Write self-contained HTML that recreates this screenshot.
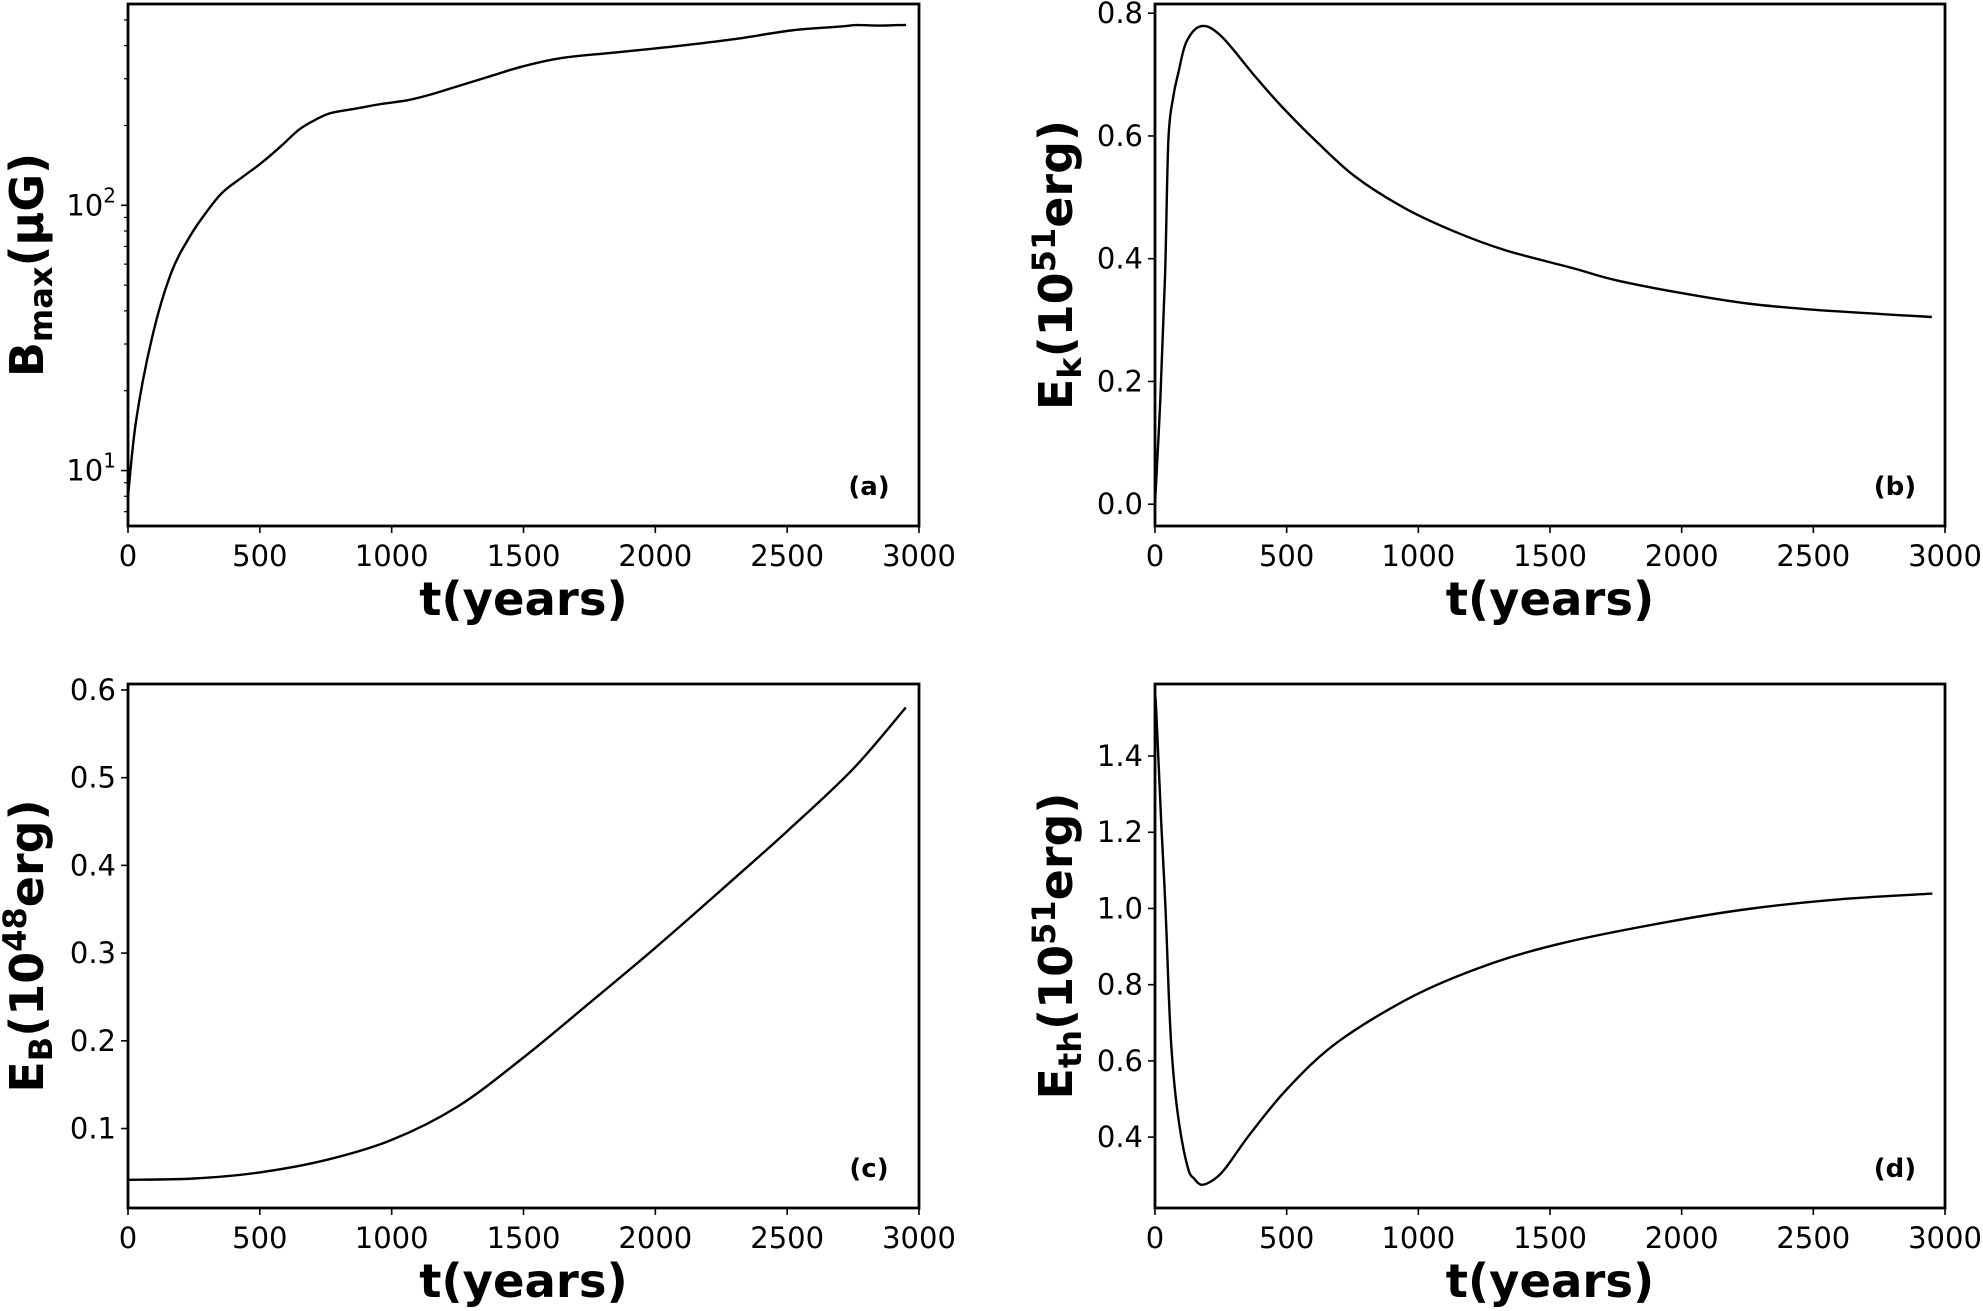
<!DOCTYPE html>
<html><head><meta charset="utf-8"><style>
html,body{margin:0;padding:0;background:#fff;}
svg{display:block;font-family:"DejaVu Sans","Liberation Sans",sans-serif;}
</style></head><body>
<svg id="fig" width="1983" height="1311" viewBox="0 0 1983 1311" xmlns="http://www.w3.org/2000/svg">
<rect width="1983" height="1311" fill="#fff"/>
</svg>
<script>
const xTicks=[0,500,1000,1500,2000,2500,3000];
const tA=[0,31,92,165,237,300,359,430,504,580,649,710,771,868,960,1061,1150,1255,1380,1497,1643,1836,2079,2297,2515,2700,2760,2850,2951];
const vA=[8.0,15.5,32,56,77,95,112,127,144,167,193,210,223,232,241,249,262,282,308,334,359,376,398,423,456,472,478,476,479];
const tB=[0,20,38,51,70,89,120,177,253,380,481,608,760,950,1139,1329,1583,1750,2000,2250,2500,2750,2950];
const vB=[0,0.17,0.37,0.594,0.665,0.703,0.754,0.779,0.762,0.697,0.648,0.593,0.534,0.482,0.444,0.414,0.385,0.365,0.344,0.327,0.317,0.31,0.305];
const tC=[0,250,500,750,1000,1250,1500,1750,2000,2250,2500,2750,2950];
const vC=[0.0416,0.043,0.050,0.064,0.087,0.125,0.181,0.243,0.306,0.372,0.439,0.51,0.58];
const tD=[0,5,24,40,52,64,88,124,150,178,220,267,362,505,695,981,1267,1552,1933,2267,2600,2952];
const vD=[1.56,1.515,1.22,1.0,0.78,0.617,0.453,0.321,0.29,0.275,0.287,0.318,0.409,0.529,0.65,0.77,0.853,0.91,0.963,1.0,1.024,1.039];
const yTicksB=[0,0.2,0.4,0.6,0.8];
const yTicksC=[0.1,0.2,0.3,0.4,0.5,0.6];
const yTicksD=[0.4,0.6,0.8,1.0,1.2,1.4];

const NS="http://www.w3.org/2000/svg";
const svg=document.getElementById('fig');
function mk(tag,attrs,parent){const e=document.createElementNS(NS,tag);for(const k in attrs)e.setAttribute(k,attrs[k]);(parent||svg).appendChild(e);return e;}
function smooth(pts){
  let d='M'+pts[0][0].toFixed(1)+','+pts[0][1].toFixed(1);
  for(let i=0;i<pts.length-1;i++){
    const p0=pts[Math.max(0,i-1)],p1=pts[i],p2=pts[i+1],p3=pts[Math.min(pts.length-1,i+2)];
    const c1=[p1[0]+(p2[0]-p0[0])/6,p1[1]+(p2[1]-p0[1])/6];
    const c2=[p2[0]-(p3[0]-p1[0])/6,p2[1]-(p3[1]-p1[1])/6];
    d+='C'+c1[0].toFixed(1)+','+c1[1].toFixed(1)+' '+c2[0].toFixed(1)+','+c2[1].toFixed(1)+' '+p2[0].toFixed(1)+','+p2[1].toFixed(1);
  }
  return d;
}

function panel(o){
  const g=mk('g',{});
  
  
  const X=t=>o.x0+(t-0)/3000*(o.x1-o.x0);
  const Y=o.log?(v=>o.y1-(Math.log10(v)-o.lo)/(o.hi-o.lo)*(o.y1-o.y0)):(v=>o.y1-(v-o.lo)/(o.hi-o.lo)*(o.y1-o.y0));
  xTicks.forEach(t=>{
    const l=mk('line',{x1:X(t),x2:X(t),y1:o.y1,y2:o.y1+7,stroke:'#000','stroke-width':1.6},g);
    
    
    const tx=mk('text',{x:X(t),y:o.y1+40,'font-size':29,'text-anchor':'middle'},g);
    
    
    tx.textContent=t;
  });
  if(o.log){
    [1,2].forEach(p=>{
      const y=Y(Math.pow(10,p));
      const l=mk('line',{x1:o.x0-7,x2:o.x0,y1:y,y2:y,stroke:'#000','stroke-width':1.6},g);
      
      
      const tx=mk('text',{x:o.x0-12,y:y+10,'font-size':29,'text-anchor':'end'},g);
      
      
      tx.innerHTML='10<tspan font-size="20" dy="-13">'+p+'</tspan>';
    });
    [7,8,9,20,30,40,50,60,70,80,90,200,300,400,500].forEach(v=>{
      const y=Y(v);
      const l=mk('line',{x1:o.x0-4,x2:o.x0,y1:y,y2:y,stroke:'#000','stroke-width':1.2},g);
      
      
    });
  } else {
    o.yt.forEach(v=>{
      const y=Y(v);
      const l=mk('line',{x1:o.x0-7,x2:o.x0,y1:y,y2:y,stroke:'#000','stroke-width':1.6},g);
      
      
      const tx=mk('text',{x:o.x0-12,y:y+10,'font-size':29,'text-anchor':'end'},g);
      
      
      tx.textContent=v.toFixed(1);
    });
  }
  const pts=o.t.map((t,i)=>[X(t),Y(o.v[i])]);
  const cp=mk('clipPath',{id:'clip-'+o.name},g);
  mk('rect',{x:o.x0,y:o.y0,width:o.x1-o.x0,height:o.y1-o.y0},cp);
  const p=mk('path',{d:smooth(pts),fill:'none',stroke:'#000','stroke-width':2.4,'stroke-linejoin':'round','clip-path':'url(#clip-'+o.name+')'},g);
  
  
  const f=mk('rect',{x:o.x0,y:o.y0,width:o.x1-o.x0,height:o.y1-o.y0,fill:'none',stroke:'#000','stroke-width':2.8},g);
  
  
  const xl=mk('text',{x:(o.x0+o.x1)/2,y:o.y1+89,'font-size':46.5,'font-weight':'bold','text-anchor':'middle'},g);
  
  
  xl.textContent='t(years)';
  const cy=(o.y0+o.y1)/2;
  const yl=mk('text',{x:0,y:0,'font-size':46,'font-weight':'bold','text-anchor':'middle',transform:'translate('+o.ylx+','+cy+') rotate(-90)'},g);
  
  
  yl.innerHTML=o.ylab;
  const pl=mk('text',{x:o.x1-50,y:o.y1-31,'font-size':26,'font-weight':'bold','text-anchor':'middle'},g);
  
  
  pl.textContent=o.lab;
}
panel({name:'panel-a',x0:128,x1:919,y0:4,y1:526,log:true,lo:0.791,hi:2.759,t:tA,v:vA,ylx:43,lab:'(a)',
  ylab:'B<tspan font-size="32" dy="9">max</tspan><tspan dy="-9">(μG)</tspan>'});
panel({name:'panel-b',x0:1155,x1:1945,y0:4,y1:526,lo:-0.0355,hi:0.815,yt:yTicksB,t:tB,v:vB,ylx:1072,lab:'(b)',
  ylab:'E<tspan font-size="32" dy="9">k</tspan><tspan dy="-9">(10</tspan><tspan font-size="32" dy="-17">51</tspan><tspan dy="17">erg)</tspan>'});
panel({name:'panel-c',x0:128,x1:919,y0:684,y1:1208,lo:0.0094,hi:0.6068,yt:yTicksC,t:tC,v:vC,ylx:43,lab:'(c)',
  ylab:'E<tspan font-size="32" dy="9">B</tspan><tspan dy="-9">(10</tspan><tspan font-size="32" dy="-17">48</tspan><tspan dy="17">erg)</tspan>'});
panel({name:'panel-d',x0:1155,x1:1945,y0:684,y1:1208,lo:0.214,hi:1.589,yt:yTicksD,t:tD,v:vD,ylx:1072,lab:'(d)',
  ylab:'E<tspan font-size="32" dy="9">th</tspan><tspan dy="-9">(10</tspan><tspan font-size="32" dy="-17">51</tspan><tspan dy="17">erg)</tspan>'});
</script>
</body></html>
